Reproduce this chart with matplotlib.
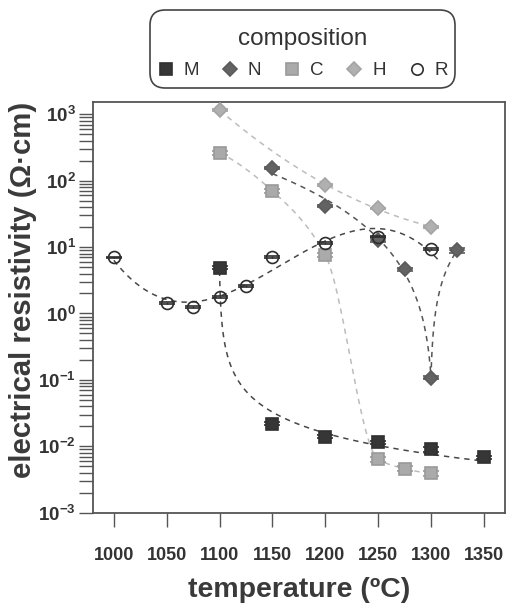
import numpy as np
import matplotlib
matplotlib.use("Agg")
import matplotlib.pyplot as plt
from matplotlib.lines import Line2D
from matplotlib.patches import FancyBboxPatch
from matplotlib.ticker import FixedLocator, FuncFormatter, LogLocator, NullFormatter

plt.rcParams['font.family'] = ['Liberation Sans', 'DejaVu Sans']
plt.rcParams['mathtext.fontset'] = 'custom'
plt.rcParams['mathtext.rm'] = 'Liberation Sans:bold'
plt.rcParams['mathtext.bf'] = 'Liberation Sans:bold'
plt.rcParams['mathtext.it'] = 'Liberation Sans:bold:italic'

# ---------------- data ----------------
T_M = [1100, 1150, 1200, 1250, 1300, 1350]
rho_M = [4.9, 0.022, 0.014, 0.0115, 0.0090, 0.0068]
err_M = [0.06, 0.06, 0.06, 0.06, 0.08, 0.06]

T_N = [1150, 1200, 1250, 1275, 1300, 1325]
rho_N = [154, 41.6, 12.8, 4.6, 0.108, 9.0]
err_N = [0.04, 0.04, 0.06, 0.06, 0.06, 0.08]

T_C = [1100, 1150, 1200, 1250, 1275, 1300]
rho_C = [263, 70, 7.6, 0.0064, 0.0046, 0.0039]
err_C = [0.06, 0.06, 0.06, 0.08, 0.08, 0.08]

T_H = [1100, 1200, 1250, 1300]
rho_H = [1160, 86, 38.4, 20.1]
err_H = [0.02, 0.02, 0.02, 0.02]

T_R = [1000, 1050, 1075, 1100, 1125, 1150, 1200, 1250, 1300]
rho_R = [7.0, 1.43, 1.26, 1.79, 2.62, 7.1, 11.6, 14.4, 9.4]
err_R = [0.03, 0.03, 0.03, 0.03, 0.03, 0.03, 0.03, 0.03, 0.03]

labels = ['M', 'N', 'C', 'H', 'R']
x_ticks = [1000, 1050, 1100, 1150, 1200, 1250, 1300, 1350]


# ---------------- curve helpers (fits of the data above) ----------------
def pchip(x, y, xs):
    x = np.asarray(x, float); y = np.asarray(y, float); xs = np.asarray(xs, float)
    h = np.diff(x); d = np.diff(y) / h
    n = len(x)
    m = np.zeros(n)
    for k in range(1, n - 1):
        if d[k - 1] * d[k] > 0:
            w1 = 2 * h[k] + h[k - 1]; w2 = h[k] + 2 * h[k - 1]
            m[k] = (w1 + w2) / (w1 / d[k - 1] + w2 / d[k])

    def end(h0, h1, d0, d1):
        mm = ((2 * h0 + h1) * d0 - h0 * d1) / (h0 + h1)
        if np.sign(mm) != np.sign(d0):
            mm = 0.0
        elif np.sign(d0) != np.sign(d1) and abs(mm) > abs(3 * d0):
            mm = 3 * d0
        return mm
    m[0] = end(h[0], h[1], d[0], d[1])
    m[-1] = end(h[-1], h[-2], d[-1], d[-2])
    i = np.clip(np.searchsorted(x, xs) - 1, 0, n - 2)
    t = (xs - x[i]) / h[i]
    h00 = 2 * t**3 - 3 * t**2 + 1; h10 = t**3 - 2 * t**2 + t
    h01 = -2 * t**3 + 3 * t**2; h11 = t**3 - t**2
    return h00 * y[i] + h10 * h[i] * m[i] + h01 * y[i + 1] + h11 * h[i] * m[i + 1]


def curve_R():
    T = np.array(T_R, float); L = np.log10(rho_R)
    c = np.polyfit(T - 1150, L, 3)
    xs = np.linspace(min(T_R), max(T_R) + 8, 300)
    return xs, 10 ** np.polyval(c, xs - 1150)


def curve_M():
    # power-law fit: log rho linear in log(T - T0 + 0.5)
    off = T_M[0] - 0.5
    u = np.log10(np.array(T_M, float) - off)
    c = np.polyfit(u, np.log10(rho_M), 1)
    us = np.linspace(u[0], u[-1], 300)
    return off + 10 ** us, 10 ** np.polyval(c, us)


def curve_N():
    Tn = np.array(T_N, float); L = np.log10(rho_N)
    i0 = int(np.argmin(L))
    Tl, Ll = Tn[:i0 + 1], L[:i0 + 1]
    offl = Tn[i0] + 1
    v = np.log10(offl - Tl)
    c = np.polyfit(v, Ll, 2)
    vs = np.linspace(np.log10(offl - Tl[0]), 0, 300)
    xl, yl = offl - 10 ** vs, 10 ** np.polyval(c, vs)
    Tr, Lr = Tn[i0:], L[i0:]
    offr = Tn[i0] - 1
    w = np.log10(Tr - offr)
    cr = np.polyfit(w, Lr, 1)
    ws = np.linspace(0, np.log10(Tr[-1] - offr), 200)
    xr, yr = offr + 10 ** ws, 10 ** np.polyval(cr, ws)
    return (xl, yl), (xr, yr)


def curve_H():
    c = np.polyfit(np.array(T_H, float) - 1200, np.log10(rho_H), 2)
    xs = np.linspace(min(T_H), max(T_H), 200)
    return xs, 10 ** np.polyval(c, xs - 1200)


def curve_C():
    xs = np.linspace(min(T_C), max(T_C), 400)
    return xs, 10 ** pchip(T_C, np.log10(rho_C), xs)


# ---------------- figure ----------------
W, H = 507, 607
fig = plt.figure(figsize=(W / 100, H / 100), dpi=100)
ax = fig.add_axes([0.1828, 0.1554, 0.8132, 0.6771])
ax.set_yscale('log')

dash = (0, (3.5, 3.2))
lc_dark = '#474747'
lc_mid = '#555555'
lc_light = '#bcbcbc'

xc, yc = curve_R()
ax.plot(xc, yc, color=lc_dark, lw=1.1, ls=dash, zorder=2)
xc, yc = curve_M()
ax.plot(xc, yc, color=lc_dark, lw=1.1, ls=dash, zorder=2)
(xl, yl), (xr, yr) = curve_N()
ax.plot(xl, yl, color=lc_mid, lw=1.1, ls=dash, zorder=2)
ax.plot(xr, yr, color=lc_mid, lw=1.1, ls=dash, zorder=2)
xc, yc = curve_H()
ax.plot(xc, yc, color=lc_light, lw=1.1, ls=dash, zorder=1.5)
xc, yc = curve_C()
ax.plot(xc, yc, color=lc_light, lw=1.1, ls=dash, zorder=1.5)

styles = {
    'M': dict(marker='s', ms=8.8, mfc='#363636', mec='#303030', ecolor='#303030'),
    'N': dict(marker='D', ms=7.0, mfc='#636363', mec='#5a5a5a', ecolor='#5a5a5a'),
    'C': dict(marker='s', ms=8.8, mfc='#aaaaaa', mec='#9a9a9a', ecolor='#9a9a9a'),
    'H': dict(marker='D', ms=7.0, mfc='#b0b0b0', mec='#a4a4a4', ecolor='#a4a4a4'),
    'R': dict(marker='o', ms=8.6, mfc='none', mec='#2e2e2e', ecolor='#2e2e2e'),
}
series = {
    'M': (T_M, rho_M, err_M),
    'N': (T_N, rho_N, err_N),
    'C': (T_C, rho_C, err_C),
    'H': (T_H, rho_H, err_H),
    'R': (T_R, rho_R, err_R),
}
zord = {'H': 3, 'C': 3, 'N': 4, 'M': 5, 'R': 6}
for k in labels:
    T, r, e = series[k]
    r = np.asarray(r); e = np.asarray(e)
    st = styles[k]
    ax.errorbar(T, r, yerr=r * e, fmt='none', ecolor=st['ecolor'], elinewidth=1.0,
                capsize=5.5, capthick=1.2, zorder=zord[k])
    ax.plot(T, r, ls='none', marker=st['marker'], ms=st['ms'], mfc=st['mfc'],
            mec=st['mec'], mew=1.2, zorder=zord[k] + 0.1)

ax.set_xlim(980, 1370)
ax.set_ylim(1e-3, 10 ** 3.19)

ax.xaxis.set_major_locator(FixedLocator(x_ticks))
ax.yaxis.set_major_locator(LogLocator(base=10, numticks=20))
ax.yaxis.set_minor_locator(LogLocator(base=10, subs=np.arange(2, 10), numticks=20))
ax.yaxis.set_minor_formatter(NullFormatter())
ax.yaxis.set_major_formatter(FuncFormatter(
    lambda v, p: r'$\mathbf{10^{%d}}$' % int(round(np.log10(v)))))

spine_c = '#555555'
for s in ax.spines.values():
    s.set_color(spine_c)
    s.set_linewidth(1.3)
ax.tick_params(axis='both', which='both', direction='out', color=spine_c, width=1.0)
ax.tick_params(axis='x', which='major', length=10, pad=15, labelsize=13, labelcolor='#333333')
ax.tick_params(axis='y', which='major', length=10, pad=2, labelsize=13.5, labelcolor='#333333')
ax.tick_params(axis='y', which='minor', length=10)
for lab in ax.get_xticklabels():
    lab.set_fontweight('bold')

ax.set_xlabel('temperature (ºC)', fontsize=20.5, fontweight='bold', color='#3a3a3a', labelpad=9)
ax.set_ylabel('electrical resistivity (Ω·cm)', fontsize=21.2, fontweight='bold',
              color='#3a3a3a')
ax.yaxis.set_label_coords(-0.135, 0.543)

# legend (content) with a rounded frame drawn around it
handles = []
for k in labels:
    st = styles[k]
    handles.append(Line2D([], [], ls='none', marker=st['marker'], ms=st['ms'] * 0.95,
                          mfc=st['mfc'], mec=st['mec'], mew=1.2))
leg = fig.legend(handles, labels, title='composition', ncol=5, loc='upper center',
                 bbox_to_anchor=(0.5966, 1 - 28 / H), borderaxespad=0,
                 fontsize=13.5, title_fontsize=17.5, labelspacing=0.65,
                 handlelength=0.9, handletextpad=0.5, columnspacing=1.2,
                 borderpad=0.0, frameon=False, labelcolor='#333333')
leg.get_title().set_color('#333333')

box = FancyBboxPatch((150 / W, 1 - 88 / H), 305 / W, 78 / H,
                     boxstyle='round,pad=0,rounding_size=0.03',
                     transform=fig.transFigure, facecolor='none',
                     edgecolor='#444444', linewidth=1.2, mutation_aspect=W / H)
fig.add_artist(box)

fig.savefig('out.png', dpi=100)
